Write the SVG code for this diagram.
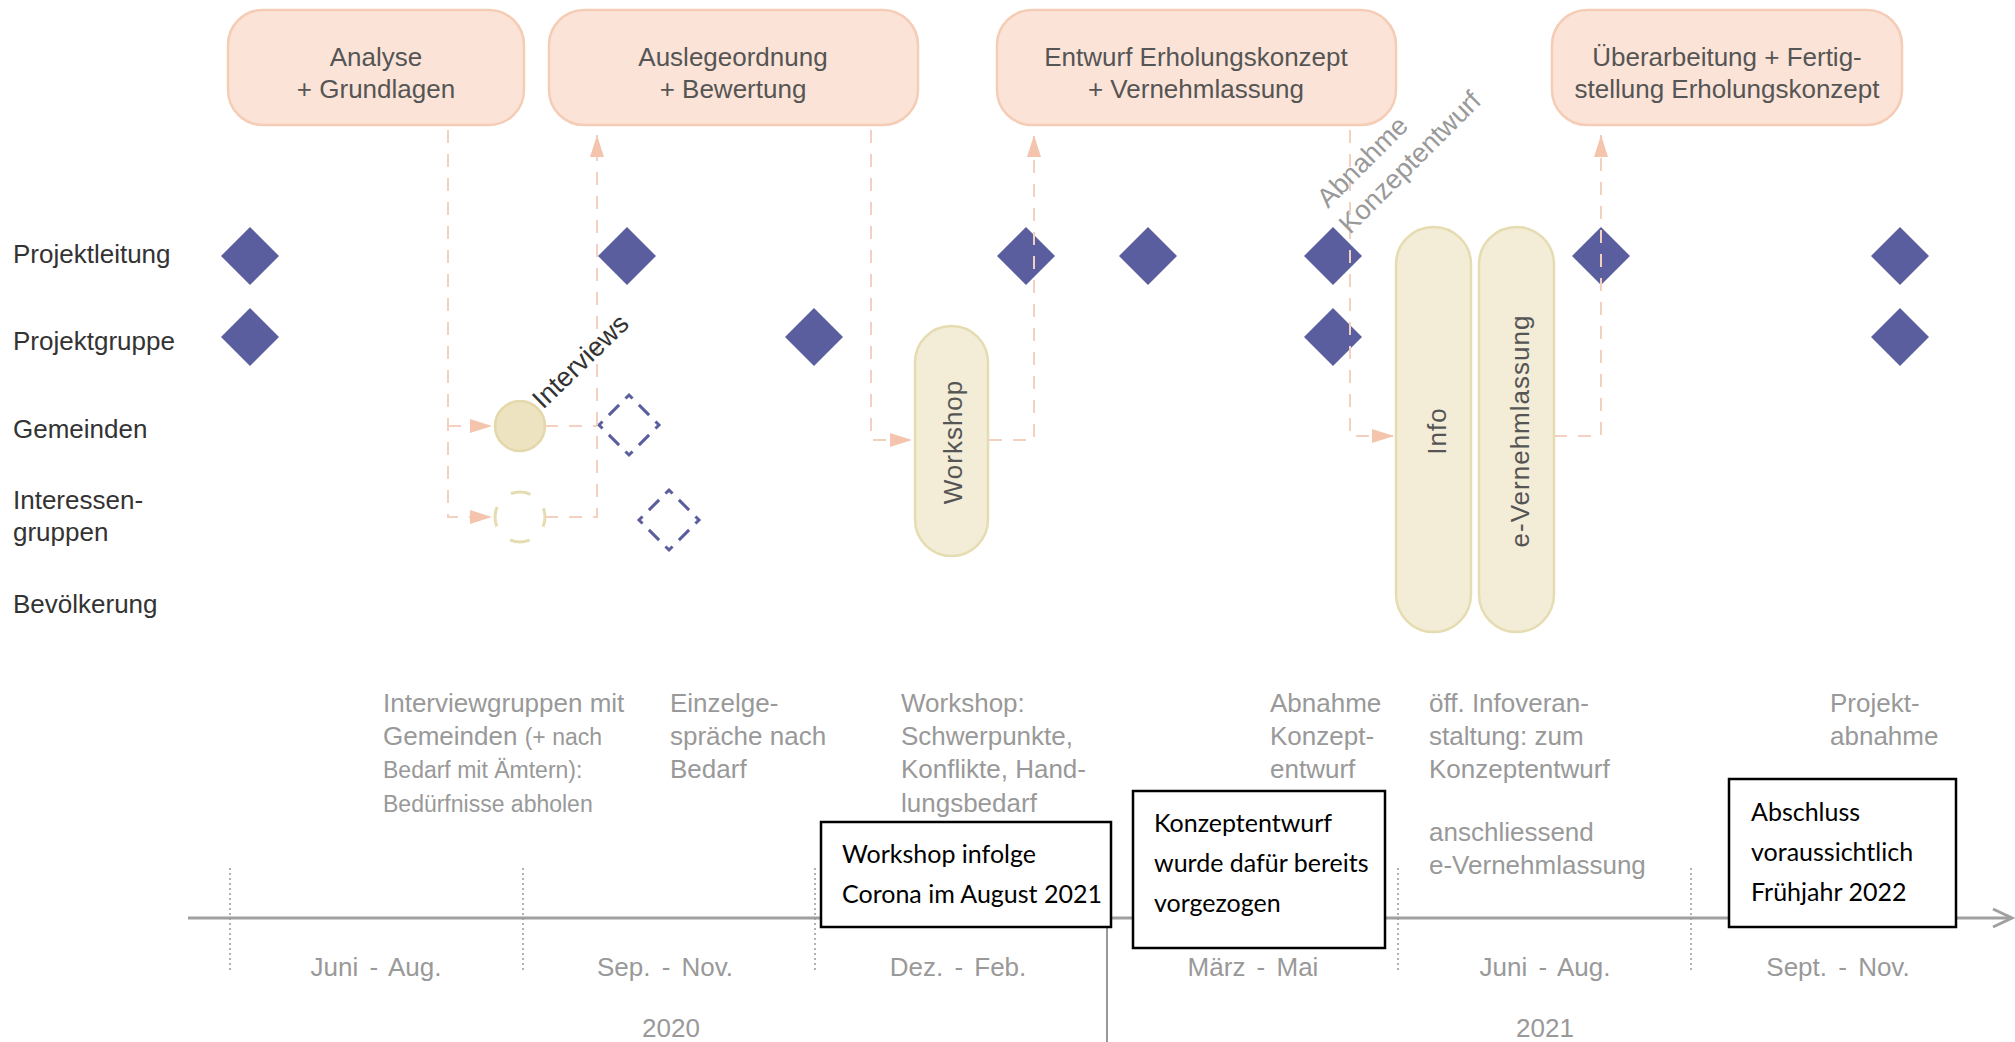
<svg xmlns="http://www.w3.org/2000/svg" width="2015" height="1042" viewBox="0 0 2015 1042">
<defs>
<style>
.phase{fill:#fbe4d7;stroke:#f5cdb6;stroke-width:2.5}
.ptxt{font-family:"Liberation Sans",Arial,sans-serif;font-size:26px;fill:#555;text-anchor:middle}
.row{font-family:"Liberation Sans",Arial,sans-serif;font-size:26px;fill:#333}
.pill{fill:#f3ecd7;stroke:#e6dcb1;stroke-width:2.5}
.pilltxt{font-family:"Liberation Sans",Arial,sans-serif;font-size:26px;fill:#555;text-anchor:middle;letter-spacing:1px}
.dia{fill:#5a5e9e}
.ddia{fill:none;stroke:#5a5e9e;stroke-width:3;stroke-dasharray:10 9 14.43 9;stroke-dashoffset:5}
.circ{fill:#ede3c1;stroke:#e3d8aa;stroke-width:2.5}
.dcirc{fill:none;stroke:#e6dcb1;stroke-width:3;stroke-dasharray:20 19.27;stroke-dashoffset:10}
.conn{fill:none;stroke:#f3d0bf;stroke-width:2;stroke-dasharray:13 11}
.rot{font-family:"Liberation Sans",Arial,sans-serif;font-size:27px}
.desc{font-family:"Liberation Sans",Arial,sans-serif;font-size:26px;fill:#999}
.month{font-family:"Liberation Sans",Arial,sans-serif;font-size:26px;fill:#999;text-anchor:middle;word-spacing:4px}
.note{fill:#fff;stroke:#000;stroke-width:2.5}
.notetxt{font-family:Lato,"Liberation Sans",sans-serif;font-size:25px;fill:#000}
.sep{stroke:#999;stroke-width:1.5;stroke-dasharray:2 3}
.axis{stroke:#a0a0a0;stroke-width:3;fill:none}
</style>
<marker id="ah" viewBox="0 0 22 14" refX="22" refY="7" markerWidth="22" markerHeight="14" markerUnits="userSpaceOnUse" orient="auto"><path d="M0,0 L22,7 L0,14Z" fill="#f5c4ac"/></marker>
<path id="dm" d="M0,-29L29,0L0,29L-29,0Z"/>
<path id="ddm" d="M0,-30L30,0L0,30L-30,0Z"/>
</defs>
<rect width="2015" height="1042" fill="#fff"/>

<g id="phase-analyse"><rect class="phase" x="228" y="10" width="296" height="115" rx="35"/><text class="ptxt" x="376" y="66">Analyse</text><text class="ptxt" x="376" y="98">+ Grundlagen</text></g>
<g id="phase-auslegeordnung"><rect class="phase" x="549" y="10" width="369" height="115" rx="35"/><text class="ptxt" x="733" y="66">Auslegeordnung</text><text class="ptxt" x="733" y="98">+ Bewertung</text></g>
<g id="phase-entwurf"><rect class="phase" x="997" y="10" width="399" height="115" rx="35"/><text class="ptxt" x="1196" y="66">Entwurf Erholungskonzept</text><text class="ptxt" x="1196" y="98">+ Vernehmlassung</text></g>
<g id="phase-ueberarbeitung"><rect class="phase" x="1552" y="10" width="350" height="115" rx="35"/><text class="ptxt" x="1727" y="66">Überarbeitung + Fertig-</text><text class="ptxt" x="1727" y="98">stellung Erholungskonzept</text></g>

<g id="row-labels">
<text class="row" x="13" y="263">Projektleitung</text>
<text class="row" x="13" y="350">Projektgruppe</text>
<text class="row" x="13" y="438">Gemeinden</text>
<text class="row" x="13" y="509">Interessen-</text>
<text class="row" x="13" y="541">gruppen</text>
<text class="row" x="13" y="613">Bevölkerung</text>
</g>

<g id="projektleitung-milestones" class="dia">
<use href="#dm" x="250" y="256"/><use href="#dm" x="627" y="256"/><use href="#dm" x="1026" y="256"/><use href="#dm" x="1148" y="256"/><use href="#dm" x="1333" y="256"/><use href="#dm" x="1601" y="256"/><use href="#dm" x="1900" y="256"/>
</g>
<g id="projektgruppe-milestones" class="dia">
<use href="#dm" x="250" y="337"/><use href="#dm" x="814" y="337"/><use href="#dm" x="1333" y="337"/><use href="#dm" x="1900" y="337"/>
</g>
<g id="gemeinden-interview"><circle class="circ" cx="520" cy="426" r="25"/></g>
<g id="interessen-interview"><circle class="dcirc" cx="520" cy="517" r="25"/></g>
<g id="gemeinden-optional"><use class="ddia" href="#ddm" x="629" y="425"/></g>
<g id="interessen-optional"><use class="ddia" href="#ddm" x="669" y="520"/></g>

<g id="pill-workshop"><rect class="pill" x="915" y="326" width="73" height="230" rx="36.5"/><text class="pilltxt" transform="translate(962,442) rotate(-90)">Workshop</text></g>
<g id="pill-info"><rect class="pill" x="1396" y="227" width="75" height="405" rx="37.5"/><text class="pilltxt" transform="translate(1446,431) rotate(-90)">Info</text></g>
<g id="pill-vernehmlassung"><rect class="pill" x="1479" y="227" width="75" height="405" rx="37.5"/><text class="pilltxt" transform="translate(1529,431) rotate(-90)">e-Vernehmlassung</text></g>

<g id="connectors">
<path class="conn" d="M448,130 V517 H492" marker-end="url(#ah)"/>
<path class="conn" d="M448,426 H492" marker-end="url(#ah)"/>
<path class="conn" d="M545,426 H597"/>
<path class="conn" d="M545,517 H597 V135" marker-end="url(#ah)"/>
<path class="conn" d="M871,130 V440 H912" marker-end="url(#ah)"/>
<path class="conn" d="M989,440 H1034 V135" marker-end="url(#ah)"/>
<path class="conn" d="M1350,130 V436 H1394" marker-end="url(#ah)"/>
<path class="conn" d="M1554,436 H1601 V135" marker-end="url(#ah)"/>
</g>

<g id="rotated-labels">
<text class="rot" fill="#333" transform="translate(543,410) rotate(-44)">Interviews</text>
<text class="rot" fill="#999" transform="translate(1328,209) rotate(-45)">Abnahme</text>
<text class="rot" fill="#999" transform="translate(1350,235) rotate(-45)">Konzeptentwurf</text>
</g>

<g id="descriptions" class="desc">
<text x="383" y="712">Interviewgruppen mit</text>
<text x="383" y="745">Gemeinden <tspan font-size="23">(+ nach</tspan></text>
<text x="383" y="778" font-size="23">Bedarf mit Ämtern):</text>
<text x="383" y="812" font-size="23">Bedürfnisse abholen</text>
<text x="670" y="712">Einzelge-</text>
<text x="670" y="745">spräche nach</text>
<text x="670" y="778">Bedarf</text>
<text x="901" y="712">Workshop:</text>
<text x="901" y="745">Schwerpunkte,</text>
<text x="901" y="778">Konflikte, Hand-</text>
<text x="901" y="812">lungsbedarf</text>
<text x="1270" y="712">Abnahme</text>
<text x="1270" y="745">Konzept-</text>
<text x="1270" y="778">entwurf</text>
<text x="1429" y="712">öff. Infoveran-</text>
<text x="1429" y="745">staltung: zum</text>
<text x="1429" y="778">Konzeptentwurf</text>
<text x="1429" y="841">anschliessend</text>
<text x="1429" y="874">e-Vernehmlassung</text>
<text x="1830" y="712">Projekt-</text>
<text x="1830" y="745">abnahme</text>
</g>

<g id="timeline">
<path class="axis" d="M188,918 H2011"/>
<path class="axis" d="M1993,909 L2012,918 L1993,927"/>
<path class="sep" d="M230,868 V970 M523,868 V970 M815,868 V970 M1398,868 V970 M1691,868 V970"/>
<path d="M1107,918 V1042" stroke="#999" stroke-width="2"/>
<text class="month" x="376" y="976">Juni - Aug.</text>
<text class="month" x="665" y="976">Sep. - Nov.</text>
<text class="month" x="958" y="976">Dez. - Feb.</text>
<text class="month" x="1253" y="976">März - Mai</text>
<text class="month" x="1545" y="976">Juni - Aug.</text>
<text class="month" x="1838" y="976">Sept. - Nov.</text>
<text class="month" x="671" y="1037">2020</text>
<text class="month" x="1545" y="1037">2021</text>
</g>

<g id="note-workshop"><rect class="note" x="821" y="822" width="290" height="105"/><text class="notetxt" x="842" y="863">Workshop infolge</text><text class="notetxt" x="842" y="903">Corona im August 2021</text></g>
<g id="note-konzept"><rect class="note" x="1133" y="791" width="252" height="157"/><text class="notetxt" x="1154" y="832">Konzeptentwurf</text><text class="notetxt" x="1154" y="872">wurde dafür bereits</text><text class="notetxt" x="1154" y="912">vorgezogen</text></g>
<g id="note-abschluss"><rect class="note" x="1729" y="779" width="227" height="148"/><text class="notetxt" x="1751" y="821">Abschluss</text><text class="notetxt" x="1751" y="861">voraussichtlich</text><text class="notetxt" x="1751" y="901">Frühjahr 2022</text></g>
</svg>
